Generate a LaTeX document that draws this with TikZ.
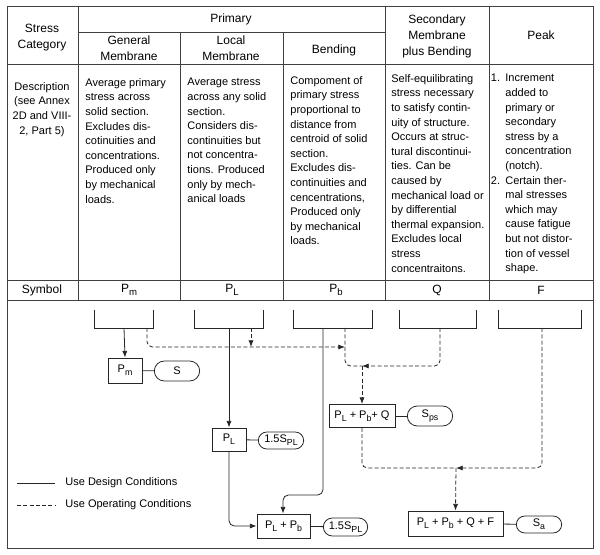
\documentclass[tikz,border=0pt]{standalone}
\usepackage{fontspec}
\usepackage{graphicx}
\setmainfont{Liberation Sans}
\usetikzlibrary{shapes.misc,arrows.meta}

\newcommand{\lsub}[1]{\raisebox{-0.55ex}{\scalebox{0.8}{#1}}}

\tikzset{
  tline/.style={draw=black!75, line width=0.7pt},
  head/.style={font=\fontsize{9}{12}\selectfont, inner sep=0pt, align=center},
  body/.style={font=\fontsize{8.25}{10.95}\selectfont, inner sep=0pt, align=left, anchor=north west},
  sbox/.style={draw=black!85, font=\fontsize{8.25}{10}\selectfont, inner sep=1pt},
  allow/.style={draw=black!85, rounded rectangle, font=\fontsize{8.25}{10}\selectfont, inner sep=1pt},
  design/.style={draw=black!85},
  operating/.style={draw=black!85, dash pattern=on 3pt off 1.7pt},
}

\begin{document}
\begin{tikzpicture}[x=0.75pt, y=-0.75pt, line width=0.6pt, >={Latex[length=5pt,width=3.8pt]}]
\useasboundingbox (0,0) rectangle (600,555);

% table frame
\draw[tline] (7,6) rectangle (593,548);
\draw[tline] (78,32) -- (385,32);
\draw[tline] (7,64) -- (593,64);
\draw[tline] (7,280) -- (593,280);
\draw[tline] (7,300) -- (593,300);
\draw[tline] (78,6) -- (78,300);
\draw[tline] (180,32) -- (180,300);
\draw[tline] (283,32) -- (283,300);
\draw[tline] (385,6) -- (385,300);
\draw[tline] (489,6) -- (489,300);

% headings
\node[head] (hcat) at (42,38) {Stress\\Category};
\node[head] (hprim) at (231,19.5) {Primary};
\node[head] (hgen) at (129,48.5) {General\\Membrane};
\node[head] (hloc) at (231,48.5) {Local\\Membrane};
\node[head] (hbend) at (334,50.5) {Bending};
\node[head] (hsec) at (437,36) {Secondary\\Membrane\\plus Bending};
\node[head] (hpeak) at (541,35) {Peak};

% descriptions
\node[body, align=center, anchor=north] (ddesc) at (42,82) {Description\\(see Annex\\2D and VIII-\\2, Part 5)};
\node[body] (dgen) at (85,78) {Average primary\\stress across\\solid section.\\Excludes dis-\\cotinuities and\\concentrations.\\Produced only\\by mechanical\\loads.};
\node[body] (dloc) at (187,78) {Average stress\\across any solid\\section.\\Considers dis-\\continuities but\\not concentra-\\tions. Produced\\only by mech-\\anical loads};
\node[body] (dbend) at (290,76) {Compoment of\\primary stress\\proportional to\\distance from\\centroid of solid\\section.\\Excludes dis-\\continuities and\\cencentrations,\\Produced only\\by mechanical\\loads.};
\node[body] (dsec) at (391,74) {Self-equilibrating\\stress necessary\\to satisfy contin-\\uity of structure.\\Occurs at struc-\\tural discontinui-\\ties. Can be\\caused by\\mechanical load or\\by differential\\thermal expansion.\\Excludes local\\stress\\concentraitons.};
\node[body] (dpeak) at (505,74) {\llap{1.\hspace{4pt}}Increment\\added to\\primary or\\secondary\\stress by a\\concentration\\(notch).\\\llap{2.\hspace{4pt}}Certain ther-\\mal stresses\\which may\\cause fatigue\\but not distor-\\tion of vessel\\shape.};

% symbols
\node[head] (ysym) at (42,290) {Symbol};
\node[head] (ypm) at (129,290) {P\lsub{m}};
\node[head] (ypl) at (232,290) {P\lsub{L}};
\node[head] (ypb) at (336,290) {P\lsub{b}};
\node[head] (yq) at (437,290) {Q};
\node[head] (yf) at (541,290) {F};

% brackets under the symbols
\foreach \l/\r in {94/153, 194/263, 293/372, 399/476, 498/581}
  \draw[design] (\l,310) |- (\r,328) -- (\r,310);
\coordinate (b1s) at (124,328);
\coordinate (b1d) at (147,328);
\coordinate (b2s) at (229,328);
\coordinate (b2d) at (251,328);
\coordinate (b3s) at (323,328);
\coordinate (b3d) at (345,328);
\coordinate (b4d) at (440,328);
\coordinate (b5d) at (542,328);

% stress boxes and limits
\node[sbox, minimum width=34pt*0.75, minimum height=25pt*0.75] (pm) at (125,370.5) {P\lsub{m}};
\node[allow, minimum width=48pt*0.75, minimum height=20pt*0.75] (s) at (177,371) {S};
\node[sbox, minimum width=34pt*0.75, minimum height=23pt*0.75] (pl) at (229,439.5) {P\lsub{L}};
\node[allow, minimum width=48pt*0.75, minimum height=17pt*0.75] (spl) at (281,440.5) {1.5S\lsub{PL}};
\node[sbox, minimum width=53pt*0.75, minimum height=24pt*0.75] (plpb) at (283.5,526) {P\lsub{L} + P\lsub{b}};
\node[allow, minimum width=47pt*0.75, minimum height=18pt*0.75] (spl2) at (345.5,527) {1.5S\lsub{PL}};
\node[sbox, minimum width=66pt*0.75, minimum height=23pt*0.75] (plpbq) at (362,416) {P\lsub{L} + P\lsub{b}+ Q};
\node[allow, minimum width=48pt*0.75, minimum height=20pt*0.75] (sps) at (430,416) {S\lsub{ps}};
\node[sbox, minimum width=95pt*0.75, minimum height=25pt*0.75] (plpbqf) at (455.5,523.5) {P\lsub{L} + P\lsub{b} + Q + F};
\node[allow, minimum width=48pt*0.75, minimum height=17pt*0.75] (sa) at (539,524.5) {S\lsub{a}};

\draw[design] (pm) -- (s);
\draw[design] (pl) -- (spl);
\draw[design] (plpb) -- (spl2);
\draw[design] (plpbq) -- (sps);
\draw[design] (plpbqf) -- (sa);

% junctions
\coordinate (m1) at (345,347);
\coordinate (m2) at (251,347);
\coordinate (j2) at (362,366);
\coordinate (j3) at (456,468);
\coordinate (k) at (283,495);

% design condition paths
\draw[design, ->] (b1s) -- (pm.north);
\draw[design, ->] (b2s) -- (pl.north);
\draw[design, ->, rounded corners=4pt] (pl.south) |- (plpb.west);
\draw[design, ->, rounded corners=4pt] (b3s) |- (k) -- (k |- plpb.north);

% operating condition paths
\draw[operating, ->, rounded corners=4pt] (b1d) |- (m1);
\draw[operating, ->] (b2d) -- (m2);
\draw[operating, rounded corners=4pt] (b3d) |- (j2);
\draw[operating, ->, rounded corners=4pt] (b4d) |- (j2);
\draw[operating, ->] (j2) -- (plpbq.north);
\draw[operating, rounded corners=4pt] (plpbq.south) |- (j3);
\draw[operating, ->, rounded corners=4pt] (b5d) |- (j3);
\draw[operating, ->] (j3) -- (plpbqf.north);

% legend
\coordinate (la) at (17,483);
\coordinate (lb) at (55,483);
\coordinate (lc) at (17,505);
\coordinate (ld) at (55,505);
\draw[design] (la) -- (lb);
\draw[operating] (lc) -- (ld);
\node[body, anchor=west] (ldes) at (65,483) {Use Design Conditions};
\node[body, anchor=west] (lop) at (65,505) {Use Operating Conditions};

\end{tikzpicture}
\end{document}
